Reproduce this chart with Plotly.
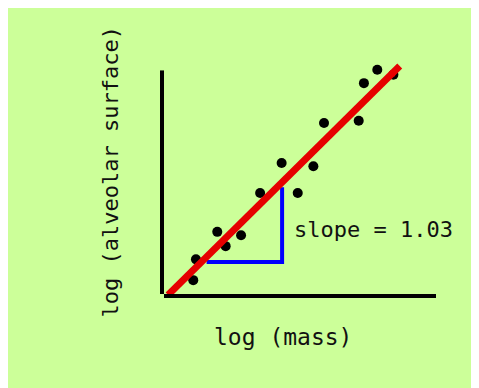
import plotly.graph_objects as go

# data (log mass, log alveolar surface) in arbitrary log units
log_mass = [1.29, 1.41, 2.35, 2.72, 3.40, 4.24, 5.19, 5.90, 6.59, 7.06, 8.59, 8.82, 9.41, 10.12]
log_surface = [0.62, 1.55, 2.78, 2.14, 2.63, 4.52, 5.86, 4.52, 5.71, 7.65, 7.75, 9.43, 10.03, 9.81]

# fitted line endpoints
fit_x = [0.18, 10.40]
fit_y = [-0.04, 10.20]

# slope triangle corners
tri_x = [1.88, 5.21, 5.21]
tri_y = [1.43, 1.43, 4.78]

slope_label = "slope = 1.03"
x_title = "log (mass)"
y_title = "log (alveolar surface)"

GREEN = "#CCFF99"
FONT = "DejaVu Sans Mono"

fig = go.Figure()

fig.add_trace(go.Scatter(
    x=log_mass, y=log_surface, mode="markers",
    marker=dict(color="black", size=10, line=dict(width=0)),
    cliponaxis=False, hoverinfo="skip", showlegend=False,
))

fig.add_trace(go.Scatter(
    x=tri_x, y=tri_y, mode="lines",
    line=dict(color="#0000FF", width=4),
    cliponaxis=False, hoverinfo="skip", showlegend=False,
))

fig.add_trace(go.Scatter(
    x=fit_x, y=fit_y, mode="lines",
    line=dict(color="#E60000", width=7),
    cliponaxis=False, hoverinfo="skip", showlegend=False,
))

fig.add_trace(go.Scatter(
    x=[fit_x[-1]], y=[fit_y[-1]], mode="markers",
    marker=dict(symbol="arrow", angle=45, color="#E60000", size=12, line=dict(width=0)),
    cliponaxis=False, hoverinfo="skip", showlegend=False,
))

# page body has an 8px margin; figure starts at (8, 8)
OFF = 8
W, H = 471, 380
Y_TOP = 10.6          # y range top (extends above the drawn y axis)
Y_AXIS_TOP = 10.0     # where the visible y axis line stops
SCALE = 22.4          # px per y unit
L = 164 - OFF
R = W - (436 - OFF)
B = H - (294 - OFF)
T = (294 - OFF) - int(round(Y_TOP * SCALE))
pw, ph = W - L - R, H - T - B

def px(xp):
    return (xp - OFF - L) / pw

def py(yp):
    return (H - B - (yp - OFF)) / ph

# y axis line (stops at Y_AXIS_TOP, meets the x axis line)
fig.add_shape(type="line", xref="paper", yref="y",
              x0=-2 / pw, x1=-2 / pw, y0=-4.5 / SCALE, y1=Y_AXIS_TOP,
              line=dict(color="black", width=4))

fig.add_annotation(x=5.65, y=2.9, xref="x", yref="y", text=slope_label,
                   showarrow=False, xanchor="left", yanchor="middle",
                   font=dict(family=FONT, size=22, color="#111111"))

fig.add_annotation(x=px(283), y=py(337), xref="paper", yref="paper", text=x_title,
                   showarrow=False, xanchor="center", yanchor="middle",
                   font=dict(family=FONT, size=23, color="#111111"))

fig.add_annotation(x=px(110), y=py(172.5), xref="paper", yref="paper", text=y_title,
                   showarrow=False, xanchor="center", yanchor="middle", textangle=-90,
                   font=dict(family=FONT, size=22, color="#111111"))

axis_common = dict(showgrid=False, zeroline=False, showticklabels=False, ticks="",
                   fixedrange=True)

fig.update_layout(
    width=W, height=H, autosize=False,
    margin=dict(l=L, r=R, t=T, b=B, pad=0),
    paper_bgcolor=GREEN, plot_bgcolor=GREEN,
    xaxis=dict(range=[0, 12], showline=True, linecolor="black", linewidth=4, **axis_common),
    yaxis=dict(range=[0, Y_TOP], showline=False, **axis_common),
    showlegend=False,
)

fig.write_html("out.html", config={"displayModeBar": False})
